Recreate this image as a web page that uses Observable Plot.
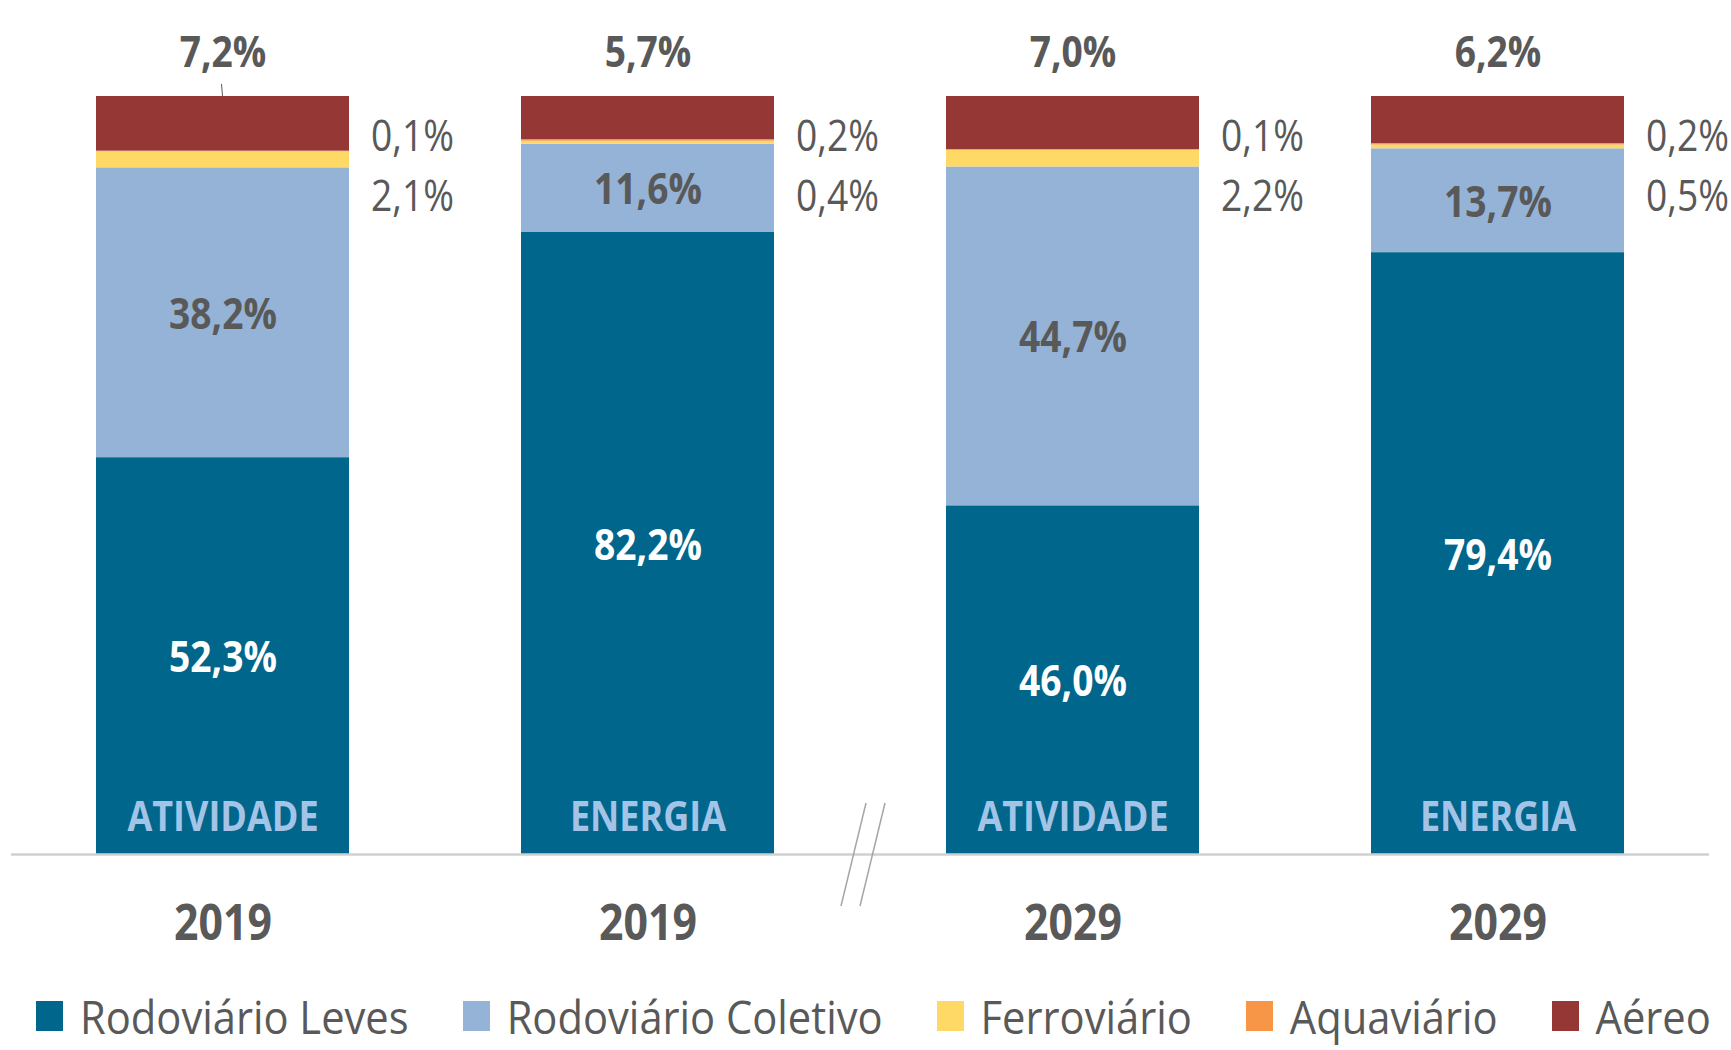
<!DOCTYPE html>
<html><head><meta charset="utf-8">
<script src="https://cdn.jsdelivr.net/npm/d3@7"></script>
<script src="https://cdn.jsdelivr.net/npm/@observablehq/plot@0.6"></script>
<style>
html,body{margin:0;padding:0;background:#fff;overflow:hidden}
#chart{width:1731px;height:1050px;position:relative}
.legend{display:flex;align-items:center;height:102px;padding-left:36px;color:#595959;white-space:nowrap}
.item{display:flex;align-items:center;margin-right:54px}
.sw{width:27px;height:30px;margin-right:17px;flex:none}
.lt{display:inline-block;line-height:1;transform:scaleY(1.1)}
</style></head><body><div id="chart"></div>
<script>
const bars = ["2019 ATIVIDADE","2019 ENERGIA","2029 ATIVIDADE","2029 ENERGIA"];
const years = ["2019","2019","2029","2029"];
const kinds = ["ATIVIDADE","ENERGIA","ATIVIDADE","ENERGIA"];
const series = ["Rodoviário Leves","Rodoviário Coletivo","Ferroviário","Aquaviário","Aéreo"];
const colors = ["#00668c","#95b3d7","#ffd966","#f79646","#953735"];
const rodLeves    = [52.3, 82.2, 46.0, 79.4];
const rodColetivo = [38.2, 11.6, 44.7, 13.7];
const ferroviario = [2.1, 0.4, 2.2, 0.5];
const aquaviario  = [0.1, 0.2, 0.1, 0.2];
const aereo       = [7.2, 5.7, 7.0, 6.2];

const valuesBySeries = [rodLeves, rodColetivo, ferroviario, aquaviario, aereo];
const data = [];
bars.forEach((b, i) => series.forEach((s, j) => data.push({bar: b, series: s, value: valuesBySeries[j][i]})));

const fmt = v => v.toFixed(1).replace(".", ",") + "%";

// font detection / sizing
const ctx = document.createElement("canvas").getContext("2d");
function has(f) {
  const t = "Rodoviário 2019 WwMmIil";
  for (const base of ["monospace", "serif"]) {
    ctx.font = `100px ${base}`; const a = ctx.measureText(t).width;
    ctx.font = `100px "${f}", ${base}`; const b = ctx.measureText(t).width;
    if (a !== b) return true;
  }
  return false;
}
const FAM = ["Noto Sans Condensed", "Liberation Sans Narrow", "Open Sans"].find(has) || "sans-serif";
function fit(text, weight, w) {
  ctx.font = `${weight} 100px "${FAM}"`;
  return +(100 * w / ctx.measureText(text).width).toFixed(1);
}
const FS_val = fit("52,3%", "bold", 108);
const FS_small = fit("0,1%", "normal", 83);
const FS_cat = fit("ATIVIDADE", "bold", 191);
const FS_year = fit("2019", "bold", 98);
const FS_leg = fit("Rodoviário Leves", "normal", 329);

const gray = "#595959";
const stackOpts = {x: "bar", y: "value", z: "series", offset: "normalize"};

function decorations(index, scales) {
  const x = scales.x, y = scales.y;
  const step = x(bars[2]) - x(bars[1]);
  const bw = typeof x.bandwidth === "function" ? x.bandwidth() : (typeof x.bandwidth === "number" ? x.bandwidth : step * 0.595);
  const xm = (x(bars[1]) + bw + x(bars[2])) / 2 + 3;
  const y0 = y(0);
  const g = d3.create("svg:g");
  for (const off of [-9.5, 9.5]) {
    g.append("line").attr("x1", xm + off + 12.5).attr("y1", y0 - 51).attr("x2", xm + off - 12.5).attr("y2", y0 + 52)
      .attr("stroke", "#a6a6a6").attr("stroke-width", 1.5);
  }
  const xc = x(bars[0]) + bw / 2;
  g.append("line").attr("x1", xc - 1).attr("y1", y(1) - 12).attr("x2", xc).attr("y2", y(1)).attr("stroke", gray).attr("stroke-width", 1);
  return g.node();
}

const chart = Plot.plot({
  width: 1731,
  height: 965,
  marginTop: 96,
  marginBottom: 111,
  marginLeft: 11,
  marginRight: 22,
  style: {fontFamily: `"${FAM}", sans-serif`, background: "white", color: gray},
  x: {type: "band", domain: bars, range: [95.5, 1623.5], paddingInner: 0.405, paddingOuter: 0, axis: null},
  y: {domain: [0, 1], axis: null},
  color: {domain: series, range: colors},
  marks: [
    Plot.barY(data, Plot.stackY({...stackOpts, fill: "series"})),
    Plot.ruleY([0], {stroke: "#d0d0d0", strokeWidth: 2.5}),
    decorations,
    Plot.text(data, Plot.stackY({...stackOpts, text: d => d.series === series[0] ? fmt(d.value) : "", fill: "white", fontWeight: "bold", fontSize: FS_val, dy: 2.5})),
    Plot.text(data, Plot.stackY({...stackOpts, text: d => d.series === series[1] ? fmt(d.value) : "", fill: gray, fontWeight: "bold", fontSize: FS_val, dy: 2})),
    Plot.text(bars, {x: d => d, text: (d, i) => fmt(aereo[i]), frameAnchor: "top", lineAnchor: "middle", dy: -43, fill: gray, fontWeight: "bold", fontSize: FS_val}),
    Plot.text(bars, {x: d => d, text: (d, i) => fmt(aquaviario[i]), frameAnchor: "top", lineAnchor: "middle", dy: 41, dx: 148, textAnchor: "start", fill: gray, fontSize: FS_small}),
    Plot.text(bars, {x: d => d, text: (d, i) => fmt(ferroviario[i]), frameAnchor: "top", lineAnchor: "middle", dy: 101, dx: 148, textAnchor: "start", fill: gray, fontSize: FS_small}),
    Plot.text(bars, {x: d => d, text: (d, i) => kinds[i], frameAnchor: "bottom", lineAnchor: "middle", dy: -36.5, fill: "#a3c4e6", fontWeight: "bold", fontSize: FS_cat}),
    Plot.text(bars, {x: d => d, text: (d, i) => years[i], frameAnchor: "bottom", lineAnchor: "middle", dy: 69.5, fill: gray, fontWeight: "bold", fontSize: FS_year})
  ]
});

// stretch glyphs vertically (the reference type is tall and narrow)
const SY = 1.16;
chart.querySelectorAll("text").forEach(t => {
  const tr = t.getAttribute("transform");
  if (tr) t.setAttribute("transform", tr + ` scale(1,${SY})`);
  else {
    const x = +t.getAttribute("x") || 0, y = +t.getAttribute("y") || 0;
    t.setAttribute("transform", `translate(${x},${y}) scale(1,${SY}) translate(${-x},${-y})`);
  }
});
document.getElementById("chart").append(chart);

const legend = document.createElement("div");
legend.className = "legend";
legend.style.fontFamily = `"${FAM}", sans-serif`;
legend.style.fontSize = FS_leg + "px";
series.forEach((s, i) => {
  const it = document.createElement("div"); it.className = "item";
  const sw = document.createElement("span"); sw.className = "sw"; sw.style.background = colors[i];
  const tx = document.createElement("span"); tx.className = "lt"; tx.textContent = s;
  it.append(sw, tx); legend.append(it);
});
document.getElementById("chart").append(legend);
</script></body></html>
